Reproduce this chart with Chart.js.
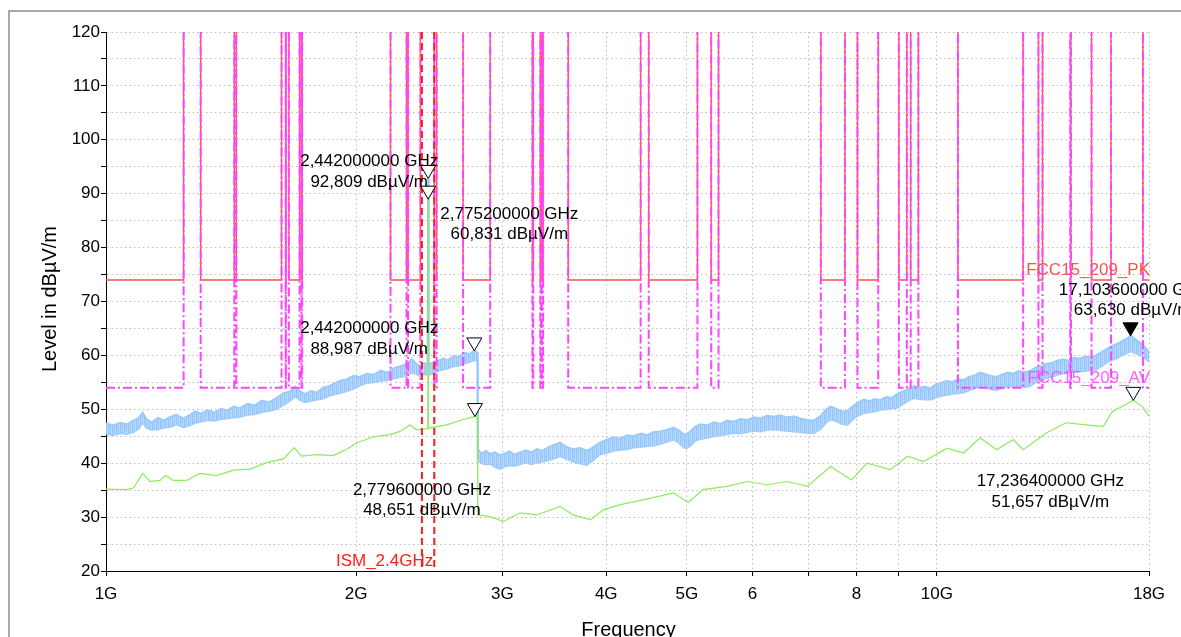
<!DOCTYPE html>
<html><head><meta charset="utf-8">
<script src="https://cdn.jsdelivr.net/npm/chart.js@4.4.1/dist/chart.umd.min.js"></script>
<style>html,body{margin:0;padding:0;background:#fff;}canvas{display:block;}</style>
</head><body>
<canvas id="c" width="1181" height="637"></canvas>
<script>
// ---------- DATA ----------
const xTickValues = [1, 2, 3, 4, 5, 6, 7, 8, 9, 10, 18];
const xTickLabels = ['1G', '2G', '3G', '4G', '5G', '6', '', '8', '', '10G', '18G'];
const yTickValues = [20, 25, 30, 35, 40, 45, 50, 55, 60, 65, 70, 75, 80, 85, 90, 95, 100, 105, 110, 115, 120];
const yTickLabels = ['20', '', '30', '', '40', '', '50', '', '60', '', '70', '', '80', '', '90', '', '100', '', '110', '', '120'];

// Peak trace (blue) – upper / lower edge of the noise band, GHz / dBµV/m
const blueFreq = [1.000, 1.020, 1.040, 1.060, 1.079, 1.095, 1.107, 1.118, 1.135, 1.155, 1.175, 1.195, 1.215, 1.239, 1.260, 1.280, 1.300,
  1.325, 1.350, 1.375, 1.400, 1.425, 1.450, 1.480, 1.510, 1.540, 1.570, 1.600, 1.635, 1.665, 1.689, 1.710, 1.735, 1.765, 1.795,
  1.825, 1.855, 1.885, 1.915, 1.950, 1.985, 2.020, 2.060, 2.100, 2.140, 2.180, 2.220, 2.259, 2.300, 2.333, 2.360, 2.388, 2.415,
  2.438, 2.442, 2.446, 2.478, 2.510, 2.545, 2.580, 2.620, 2.660, 2.700, 2.740, 2.775, 2.800, 2.802, 2.830, 2.865, 2.900, 2.940,
  2.980, 3.020, 3.060, 3.100, 3.150, 3.200, 3.250, 3.300, 3.350, 3.400, 3.450, 3.520, 3.580, 3.650, 3.720, 3.790, 3.860, 3.930,
  4.000, 4.080, 4.160, 4.240, 4.310, 4.400, 4.480, 4.560, 4.650, 4.740, 4.820, 4.900, 4.960, 5.000, 5.060, 5.120, 5.190, 5.290,
  5.390, 5.490, 5.590, 5.690, 5.800, 5.910, 6.020, 6.130, 6.250, 6.360, 6.480, 6.600, 6.720, 6.850, 6.980, 7.110, 7.250, 7.350,
  7.450, 7.560, 7.680, 7.800, 7.930, 8.050, 8.170, 8.300, 8.420, 8.550, 8.690, 8.820, 8.960, 9.100, 9.240, 9.380, 9.530, 9.670,
  9.820, 9.980, 10.13, 10.28, 10.44, 10.60, 10.77, 10.93, 11.10, 11.27, 11.45, 11.62, 11.80, 11.98, 12.17, 12.36, 12.55, 12.74,
  12.94, 13.14, 13.34, 13.54, 13.75, 13.96, 14.18, 14.40, 14.62, 14.85, 15.08, 15.31, 15.54, 15.78, 16.02, 16.27, 16.52, 16.77,
  17.03, 17.10, 17.29, 17.50, 17.68, 17.85, 18.00];
const blueUpper = [47.4, 47.0, 47.5, 47.2, 47.9, 48.4, 49.4, 48.2, 47.6, 48.4, 47.9, 48.6, 49.0, 48.3, 48.9, 49.6, 49.2,
  49.8, 49.4, 50.1, 49.8, 50.5, 50.2, 51.0, 50.7, 51.6, 51.3, 52.0, 53.0, 53.3, 54.2, 53.4, 52.8, 53.4, 53.1,
  54.0, 54.3, 54.8, 55.3, 55.6, 56.2, 56.0, 56.6, 56.4, 57.2, 56.8, 57.6, 58.0, 58.4, 59.3, 58.5, 58.0, 58.6,
  58.2, 92.809, 58.4, 58.6, 59.0, 59.4, 59.1, 59.9, 59.7, 60.5, 60.2, 60.9, 60.5, 42.6, 41.8, 42.3, 41.7, 42.0,
  41.5, 41.8, 42.2, 41.6, 42.0, 42.4, 42.0, 42.6, 42.3, 42.9, 43.3, 43.8, 43.0, 42.6, 42.8, 42.3, 43.0, 43.8,
  44.3, 44.8, 44.6, 45.2, 45.0, 45.5, 45.2, 45.8, 45.9, 46.2, 46.6, 46.0, 45.3, 45.4, 46.0, 46.8, 47.2, 47.0,
  47.6, 47.3, 47.9, 47.7, 48.2, 48.0, 48.5, 48.3, 48.8, 48.6, 48.9, 48.5, 48.7, 48.3, 48.0, 47.9, 48.8, 49.9,
  50.5, 50.1, 49.6, 49.7, 50.6, 51.3, 51.8, 51.5, 51.9, 51.7, 52.3, 52.1, 52.8, 53.3, 53.8, 54.3, 54.0, 54.2,
  53.9, 54.6, 54.9, 55.3, 55.0, 55.6, 55.4, 56.0, 56.3, 56.8, 56.5, 56.2, 56.0, 56.4, 56.8, 56.6, 57.1, 56.9,
  57.1, 57.7, 58.0, 58.4, 58.6, 59.0, 59.3, 59.0, 59.6, 59.4, 59.8, 59.6, 60.0, 60.6, 61.2, 61.8, 62.2, 62.8,
  63.4, 63.6, 63.1, 62.5, 62.0, 61.3, 60.7];
const blueLower = [45.5, 45.2, 45.6, 45.4, 45.8, 46.4, 47.6, 46.6, 46.2, 46.3, 46.6, 46.7, 47.2, 46.7, 47.0, 47.5, 47.7,
  48.0, 47.9, 48.2, 48.3, 48.5, 48.6, 49.0, 49.1, 49.5, 49.7, 50.0, 50.8, 51.6, 52.4, 51.8, 51.3, 51.6, 51.8,
  52.0, 52.5, 52.8, 53.0, 53.4, 53.8, 54.4, 54.9, 55.0, 55.3, 55.4, 55.7, 56.0, 56.3, 56.8, 56.6, 56.1, 56.5,
  56.4, 56.6, 56.5, 56.5, 57.1, 57.4, 57.6, 58.0, 58.1, 58.5, 58.8, 59.1, 59.0, 40.6, 40.0, 39.8, 39.9, 39.3,
  39.0, 39.4, 39.6, 39.5, 39.8, 40.1, 39.8, 40.1, 40.3, 40.5, 40.8, 41.3, 40.8, 40.3, 40.0, 39.7, 40.6, 41.6,
  41.9, 42.3, 42.5, 42.6, 42.9, 43.0, 43.2, 43.3, 43.6, 44.0, 44.4, 43.7, 42.9, 42.8, 43.4, 44.2, 44.5, 44.7,
  45.0, 45.2, 45.4, 45.6, 45.5, 45.8, 46.0, 45.9, 46.2, 46.3, 46.1, 46.0, 45.9, 45.8, 45.6, 45.6, 46.4, 47.5,
  48.1, 47.8, 47.3, 47.1, 48.2, 48.9, 49.3, 49.5, 49.6, 49.9, 50.0, 50.2, 50.3, 51.0, 51.6, 52.1, 51.9, 51.8,
  51.8, 52.2, 52.5, 52.7, 52.9, 53.0, 53.1, 53.5, 53.9, 54.2, 54.0, 53.7, 53.6, 53.9, 54.3, 54.2, 54.4, 54.1,
  54.3, 55.0, 55.5, 55.8, 56.0, 56.4, 56.7, 56.8, 57.0, 57.0, 57.1, 57.3, 57.4, 58.0, 58.7, 59.2, 59.6, 60.2,
  60.6, 60.8, 60.5, 60.2, 59.8, 59.3, 58.9];

// Average trace (green)
const greenFreq  = [1.000, 1.059, 1.079, 1.107, 1.130, 1.161, 1.180, 1.205, 1.250, 1.297, 1.359, 1.423, 1.491, 1.561, 1.635, 1.684, 1.719, 1.794, 1.878, 1.948, 2.000, 2.097, 2.197, 2.259, 2.321, 2.366, 2.440, 2.442, 2.444, 2.570, 2.690, 2.780, 2.800, 2.802, 2.897, 3.010, 3.150, 3.300, 3.520, 3.650, 3.830, 3.970, 4.160, 4.430, 4.820, 5.020, 5.230, 5.590, 5.910, 6.240, 6.610, 6.980, 7.450, 7.890, 8.240, 8.790, 9.220, 9.640, 10.28, 10.77, 11.27, 11.80, 12.36, 12.70, 13.54, 14.30, 15.14, 15.85, 16.27, 17.24, 17.68, 18.00];
const greenLevel = [35.2, 35.1, 35.4, 38.1, 36.6, 36.8, 37.7, 36.8, 36.8, 38.1, 37.7, 38.7, 38.9, 40.1, 40.8, 42.9, 41.3, 41.6, 41.4, 42.6, 43.7, 44.9, 45.3, 45.9, 47.1, 46.2, 46.4, 88.987, 46.5, 47.1, 48.1, 48.65, 48.9, 30.4, 30.1, 29.2, 30.8, 30.4, 32.0, 30.4, 29.5, 31.4, 32.3, 33.2, 34.5, 32.7, 35.1, 35.7, 36.6, 36.0, 36.6, 35.7, 39.4, 36.9, 40.0, 38.8, 41.3, 40.3, 42.8, 41.9, 44.7, 42.5, 44.4, 42.5, 45.6, 47.5, 47.1, 46.8, 49.6, 51.66, 50.5, 48.7];

// Limit lines: restricted bands (GHz) where the limits apply
const bandStart = [0.96, 1.300, 1.435, 1.6455, 1.660, 1.7188, 2.200, 2.310, 2.4835, 2.690, 3.260, 3.332, 3.3458, 3.600, 4.500, 5.350, 7.250, 8.025, 9.000, 9.300, 10.60, 13.25, 14.47, 15.35, 17.70];
const bandEnd   = [1.240, 1.427, 1.6265, 1.6465, 1.710, 1.7222, 2.300, 2.390, 2.500, 2.900, 3.267, 3.339, 3.358, 4.400, 5.150, 5.460, 7.750, 8.500, 9.200, 9.500, 12.70, 13.40, 14.50, 16.20, 21.40];
const pkLimit = 74;      // FCC15_209_PK
const avLimit = 54;      // FCC15_209_AV
const offLimit = 140;    // outside restricted bands (off scale)
const ismBand = [2.4, 2.4835];

// Markers
const markerFreq   = [2.4420, 2.4420, 2.7752, 2.7796, 17.1036, 17.2364];
const markerLevel  = [92.809, 88.987, 60.831, 48.651, 63.630, 51.657];
const markerFilled = [false, false, false, false, true, false];

// ---------- LAYOUT / STYLE ----------
const FONT = "'Liberation Sans', Arial, sans-serif";
const labelPos = [ // label centre offset from marker tip: dx, dy (baseline of first line)
  [-59, -12.5], [-59, 134], [35, -132], [-53, 78], [2, -41], [-83, 86]
];
const lineGap = 20.5;
const blueColor = '#9ccafa';
const greenColor = '#8cec5a';
const pkColor = '#ff5050';
const avColor = '#ff44ff';

// striped fill to imitate the dense noise of the peak trace
const pat = document.createElement('canvas');
pat.width = 4; pat.height = 1;
const pctx = pat.getContext('2d');
['#95c6f9', '#aed3fb', '#9ccafa', '#b9dafc'].forEach((c, i) => { pctx.fillStyle = c; pctx.fillRect(i, 0, 1, 1); });
const bandFill = pctx.createPattern(pat, 'repeat');

const xMin = 1, xMax = 18;
function limitPoints(level) {
  const pts = [];
  for (let i = 0; i < bandStart.length; i++) {
    const s = Math.max(bandStart[i], xMin), e = Math.min(bandEnd[i], xMax);
    if (s > xMin) pts.push({x: s, y: offLimit});
    pts.push({x: s, y: level});
    pts.push({x: e, y: level});
    if (e < xMax) pts.push({x: e, y: offLimit});
  }
  return pts;
}
const xy = (xs, ys) => xs.map((f, i) => ({x: f, y: ys[i]}));

Chart.defaults.font.family = FONT;

const framePlugin = {
  id: 'frame',
  beforeDraw(chart) {
    const ctx = chart.ctx;
    ctx.save();
    ctx.fillStyle = '#fff';
    ctx.fillRect(0, 0, chart.width, chart.height);
    ctx.strokeStyle = '#a9a9a9';
    ctx.lineWidth = 2;
    ctx.strokeRect(9, 11, 1300, 800);
    ctx.restore();
  },
  afterDraw(chart) {
    const ctx = chart.ctx, a = chart.chartArea;
    ctx.save();
    ctx.fillStyle = '#000';
    ctx.font = '20px ' + FONT;
    ctx.textAlign = 'center';
    ctx.textBaseline = 'alphabetic';
    ctx.fillText('Frequency', (a.left + a.right) / 2 + 1, 636);
    ctx.translate(56, 299);
    ctx.rotate(-Math.PI / 2);
    ctx.fillText('Level in dBµV/m', 0, 0);
    ctx.restore();
  }
};

const annotPlugin = {
  id: 'annot',
  afterDatasetsDraw(chart) {
    const {ctx, chartArea: a, scales: {x, y}} = chart;
    ctx.save();
    // ISM band lines
    ctx.strokeStyle = '#ff1c1c';
    ctx.lineWidth = 2;
    ctx.setLineDash([7, 4]);
    ismBand.forEach(f => {
      const px = x.getPixelForValue(f);
      ctx.beginPath(); ctx.moveTo(px, a.top); ctx.lineTo(px, a.bottom); ctx.stroke();
    });
    ctx.setLineDash([]);
    ctx.font = '17px ' + FONT;
    ctx.textBaseline = 'alphabetic';
    ctx.textAlign = 'right';
    ctx.fillStyle = '#ff1c1c';
    ctx.fillText('ISM_2.4GHz', x.getPixelForValue(ismBand[1]) - 1, a.bottom - 5);
    // limit labels
    ctx.fillStyle = pkColor;
    ctx.fillText('FCC15_209_PK', a.right + 1, y.getPixelForValue(pkLimit) - 5);
    ctx.fillStyle = 'rgba(255,68,255,0.85)';
    ctx.fillText('FCC15_209_AV', a.right + 1, y.getPixelForValue(avLimit) - 5);
    // markers
    ctx.textAlign = 'center';
    markerFreq.forEach((f, i) => {
      const px = x.getPixelForValue(f), py = y.getPixelForValue(markerLevel[i]);
      ctx.beginPath();
      ctx.moveTo(px, py);
      ctx.lineTo(px - 7.5, py - 13);
      ctx.lineTo(px + 7.5, py - 13);
      ctx.closePath();
      ctx.fillStyle = markerFilled[i] ? '#000' : '#fff';
      ctx.fill();
      ctx.strokeStyle = '#000';
      ctx.lineWidth = 1;
      ctx.stroke();
      const l1 = f.toFixed(9).replace('.', ',') + ' GHz';
      const l2 = markerLevel[i].toFixed(3).replace('.', ',') + ' dBµV/m';
      ctx.fillStyle = '#000';
      ctx.fillText(l1, px + labelPos[i][0], py + labelPos[i][1]);
      ctx.fillText(l2, px + labelPos[i][0], py + labelPos[i][1] + lineGap);
    });
    ctx.restore();
  }
};

new Chart(document.getElementById('c'), {
  type: 'line',
  data: {
    datasets: [
      {label: 'PK upper', data: xy(blueFreq, blueUpper), borderColor: blueColor, backgroundColor: bandFill, borderWidth: 2, pointRadius: 0, fill: '+1', order: 5},
      {label: 'PK lower', data: xy(blueFreq, blueLower), borderColor: blueColor, borderWidth: 2, pointRadius: 0, fill: false, order: 5},
      {label: 'AV', data: xy(greenFreq, greenLevel), borderColor: greenColor, borderWidth: 1.2, pointRadius: 0, fill: false, order: 4},
      {label: 'FCC15_209_PK', data: limitPoints(pkLimit), borderColor: pkColor, borderWidth: 1.4, pointRadius: 0, fill: false, order: 3},
      {label: 'FCC15_209_AV', data: limitPoints(avLimit), borderColor: avColor, borderWidth: 2, borderDash: [9, 3, 2, 3], pointRadius: 0, fill: false, order: 2}
    ]
  },
  options: {
    responsive: false,
    animation: false,
    layout: {padding: {left: 0, top: 32, right: 32, bottom: 0}},
    plugins: {legend: {display: false}, tooltip: {enabled: false}},
    elements: {line: {tension: 0}},
    scales: {
      x: {
        type: 'logarithmic', min: xMin, max: xMax,
        afterBuildTicks: s => { s.ticks = xTickValues.map(v => ({value: v})); },
        afterFit: s => { s.height = 66; },
        ticks: {autoSkip: false, maxRotation: 0, color: '#000', font: {size: 17}, padding: 8,
          callback: (v, i) => xTickLabels[i]},
        grid: {color: '#bdbdbd', lineWidth: 1, tickColor: '#000', tickLength: 5, tickWidth: 1},
        border: {display: true, color: '#000', width: 1, dash: [1.5, 3]}
      },
      y: {
        type: 'linear', min: 20, max: 120,
        afterBuildTicks: s => { s.ticks = yTickValues.map(v => ({value: v})); },
        afterFit: s => { s.width = 106; },
        ticks: {autoSkip: false, color: '#000', font: {size: 17}, padding: 1,
          callback: (v, i) => yTickLabels[i]},
        grid: {color: '#bdbdbd', lineWidth: 1, tickColor: '#000', tickLength: 5, tickWidth: 1},
        border: {display: true, color: '#000', width: 1, dash: [1.5, 3]}
      }
    }
  },
  plugins: [framePlugin, annotPlugin]
});
</script>
</body></html>
